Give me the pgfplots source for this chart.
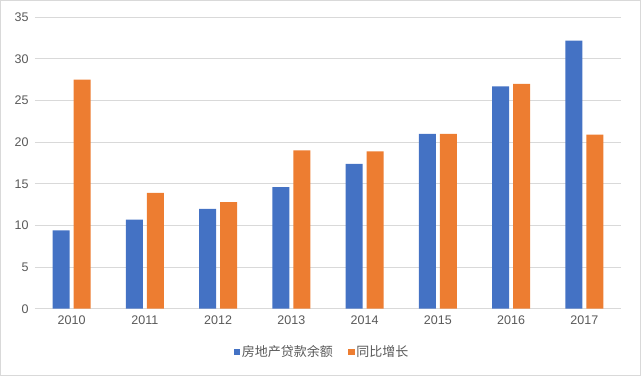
\documentclass[border=0pt]{standalone}
\usepackage{fontspec}
\setmainfont{Liberation Sans}
\newfontfamily\cjk{Noto Sans CJK SC}
\usepackage{pgfplots}
\pgfplotsset{compat=1.18}
\definecolor{cblue}{HTML}{4472C4}
\definecolor{corange}{HTML}{ED7D31}
\definecolor{gridc}{HTML}{D9D9D9}
\definecolor{textc}{HTML}{595959}
\begin{document}
\begin{tikzpicture}[x=1pt,y=1pt]
\useasboundingbox (0,0) rectangle (641,376);
\draw[color=gridc, line width=1pt] (0.5,0.5) rectangle (640.5,375.5);
\begin{axis}[
  at={(35pt,67.3pt)}, anchor=south west,
  scale only axis, width=586pt, height=291.5pt,
  ymin=0, ymax=35, ytick={0,5,...,35},
  xmin=-0.5, xmax=7.5, xtick={0,...,7},
  xticklabels={2010,2011,2012,2013,2014,2015,2016,2017},
  ybar, bar width=17pt,
  ymajorgrids, grid style={color=gridc, line width=0.8pt},
  axis line style={draw=none}, major tick length=0pt,
  tick label style={font=\fontsize{12.5}{14}\selectfont, text=textc},
  /pgf/number format/assume math mode=true,
  yticklabel style={xshift=-3pt},
  xticklabel style={yshift=-4pt},
  legend style={at={(0.5,0)}, anchor=center, yshift=-43pt, xshift=-6pt,
    draw=none, fill=none, legend columns=2,
    font=\cjk\fontsize{13}{15}\selectfont, text=textc,
    nodes={inner sep=1.5pt},
    /tikz/every even column/.append style={column sep=14pt}},
  legend image code/.code={\fill[#1] (0pt,-3.2pt) rectangle (6.5pt,3.2pt);},
]
\addplot[fill=cblue, draw=none, bar shift=-10.5pt] coordinates {
 (0,9.4) (1,10.7) (2,12.0) (3,14.6) (4,17.4) (5,21.0) (6,26.7) (7,32.2)};
\addplot[fill=corange, draw=none, bar shift=10.5pt] coordinates {
 (0,27.5) (1,13.9) (2,12.8) (3,19.0) (4,18.9) (5,21.0) (6,27.0) (7,20.9)};
\legend{房地产贷款余额,同比增长}
\end{axis}
\end{tikzpicture}
\end{document}
